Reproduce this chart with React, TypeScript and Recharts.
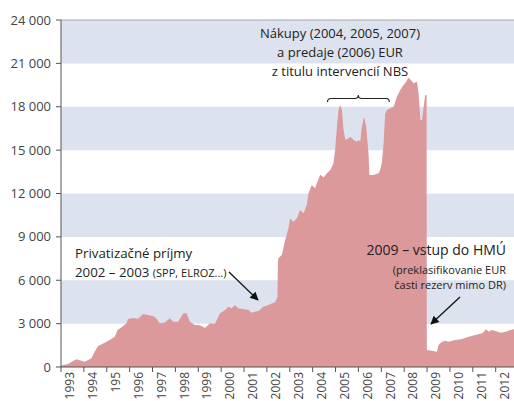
import React from 'react';
import { AreaChart, Area, XAxis, YAxis, ReferenceArea, ReferenceLine } from 'recharts';

// time (decimal years) and FX reserves (mil. EUR)
const times = [
  1993.0, 1993.31, 1993.67, 1994.04, 1994.33, 1994.47, 1994.62, 1994.91, 1995.13, 1995.35,
  1995.47, 1995.64, 1995.86, 1995.93, 1996.15, 1996.37, 1996.59, 1996.81, 1997.1, 1997.32,
  1997.54, 1997.76, 1997.9, 1998.12, 1998.34, 1998.49, 1998.63, 1998.85, 1999.0, 1999.15,
  1999.29, 1999.51, 1999.73, 1999.95, 2000.17, 2000.31, 2000.46, 2000.6, 2000.75, 2000.97,
  2001.19, 2001.34, 2001.48, 2001.63, 2001.84, 2002.06, 2002.21, 2002.36, 2002.46, 2002.48,
  2002.5, 2002.65, 2002.8, 2002.94, 2003.01, 2003.16, 2003.31, 2003.45, 2003.6, 2003.74,
  2003.82, 2003.96, 2004.11, 2004.18, 2004.33, 2004.48, 2004.62, 2004.77, 2004.91, 2004.98,
  2005.06, 2005.13, 2005.2, 2005.28, 2005.35, 2005.43, 2005.57, 2005.64, 2005.79, 2005.93,
  2006.0, 2006.08, 2006.15, 2006.25, 2006.34, 2006.44, 2006.48, 2006.66, 2006.88, 2006.95,
  2007.02, 2007.1, 2007.17, 2007.25, 2007.39, 2007.54, 2007.68, 2007.83, 2007.97, 2008.09,
  2008.19, 2008.29, 2008.41, 2008.56, 2008.63, 2008.71, 2008.78, 2008.85, 2008.92, 2008.98,
  2008.99, 2009.21, 2009.43, 2009.5, 2009.65, 2009.8, 2009.94, 2010.24, 2010.53, 2010.82,
  2011.11, 2011.41, 2011.58, 2011.7, 2011.81, 2011.99, 2012.21, 2012.43, 2012.65, 2012.8,
];
const reserves = [
  100, 200, 530, 370, 600, 1060, 1450, 1680, 1870, 2100,
  2560, 2740, 3020, 3320, 3390, 3340, 3660, 3600, 3480, 3020,
  3070, 3370, 3130, 3130, 3710, 3710, 3130, 2900, 2900, 2840,
  2700, 3020, 3000, 3710, 3940, 4170, 4060, 4290, 4060, 4010,
  3940, 3760, 3830, 3870, 4170, 4290, 4400, 4470, 4860, 7300,
  7520, 7750, 8780, 9590, 10280, 10050, 10280, 10860, 10630, 11200,
  12010, 12590, 12360, 12700, 13300, 13100, 13400, 13620, 14090, 15010,
  16620, 17770, 18120, 17770, 16390, 15700, 15820, 15930, 15700, 15580,
  15700, 15580, 16620, 17310, 16620, 14780, 13280, 13280, 13400, 13620,
  14090, 15470, 17540, 17770, 17890, 18000, 18690, 19160, 19500, 19730,
  20030, 19850, 19620, 19730, 18930, 17080, 17080, 18000, 18810, 18800,
  1180, 1130, 1060, 1520, 1750, 1820, 1750, 1870, 1940, 2100,
  2210, 2330, 2610, 2440, 2560, 2490, 2370, 2440, 2560, 2610,
];

const tickYears = [
  1993, 1994, 1995, 1996, 1997, 1998, 1999, 2000, 2001, 2002,
  2003, 2004, 2005, 2006, 2007, 2008, 2009, 2010, 2011, 2012,
];
const tickLabels = [
  '1993', '1994', '195', '1996', '1997', '1998', '1999', '2000', '2001', '2002',
  '2003', '2004', '2005', '2006', '2007', '2008', '2009', '2010', '2011', '2012',
];
const yTicks = [0, 3000, 6000, 9000, 12000, 15000, 18000, 21000, 24000];
const bands = [
  [3000, 6000],
  [9000, 12000],
  [15000, 18000],
  [21000, 24000],
];

const data = times.map((t, i) => ({ t, v: reserves[i] }));

const FONT = '"Open Sans", "DejaVu Sans", sans-serif';
const AXIS = '#555';
const TXT = '#444';

const fmtY = (v: number) =>
  v === 0 ? '0' : `${Math.floor(v / 1000)} ${String(v % 1000).padStart(3, '0')}`;

const XTick = (props: any) => {
  const { x, y, payload } = props;
  const idx = tickYears.indexOf(payload.value);
  const label = idx >= 0 ? tickLabels[idx] : String(payload.value);
  return (
    <text
      transform={`translate(${x + 8.7},${y}) rotate(-90)`}
      textAnchor="end"
      dominantBaseline="central"
      fontSize={12}
      fontFamily={FONT}
      fill={TXT}
    >
      {label}
    </text>
  );
};

export default function App() {
  return (
    <div style={{ position: 'absolute', left: 0, top: 0, width: 514, height: 401 }}>
      <AreaChart
        width={514}
        height={401}
        data={data}
        margin={{ top: 20, right: 0, left: 0, bottom: 0 }}
      >
        {bands.map(([a, b]) => (
          <ReferenceArea key={a} y1={a} y2={b} fill="#dde3ee" fillOpacity={1} stroke="none" ifOverflow="visible" />
        ))}
        <ReferenceLine y={24000} stroke="#a8a8a8" strokeWidth={1} />
        <XAxis
          dataKey="t"
          type="number"
          domain={[1993, 2012.8]}
          ticks={tickYears}
          interval={0}
          height={34}
          tickSize={5}
          tickMargin={0}
          stroke={AXIS}
          tickLine={{ stroke: AXIS }}
          tick={<XTick />}
        />
        <YAxis
          type="number"
          domain={[0, 24000]}
          ticks={yTicks}
          interval={0}
          width={61}
          tickSize={5}
          tickMargin={5}
          stroke={AXIS}
          tickLine={{ stroke: AXIS }}
          tickFormatter={fmtY}
          tick={{ fontSize: 13, fontFamily: FONT, fill: TXT }}
        />
        <Area
          type="linear"
          dataKey="v"
          stroke="none"
          fill="#db999c"
          fillOpacity={1}
          isAnimationActive={false}
          dot={false}
          activeDot={false}
        />
      </AreaChart>
      <svg
        width={514}
        height={401}
        style={{ position: 'absolute', left: 0, top: 0, pointerEvents: 'none' }}
        fontFamily={FONT}
      >
        <defs>
          <marker id="ah" viewBox="0 0 10 10" refX="9" refY="5" markerWidth="7.5" markerHeight="6.5" orient="auto">
            <path d="M0,0 L10,5 L0,10 z" fill="#111" />
          </marker>
        </defs>
        <g fill="#222" fontSize={13} textAnchor="middle">
          <text x={340} y={37.5}>Nákupy (2004, 2005, 2007)</text>
          <text x={340} y={56.5}>a predaje (2006) EUR</text>
          <text x={340} y={75.5}>z titulu intervencií NBS</text>
        </g>
        <path
          d="M327.5,102 Q327.5,98.5 331,98.5 L355,98.5 Q358.3,98.5 358.3,95 Q358.3,98.5 361.6,98.5 L386,98.5 Q389.3,98.5 389.3,102"
          fill="none"
          stroke="#222"
          strokeWidth={1.1}
        />
        <g fill="#222">
          <text x={75} y={258} fontSize={13.3}>Privatizačné príjmy</text>
          <text x={75} y={277} fontSize={13.3}>
            2002 – 2003 <tspan fontSize={11}>(SPP, ELROZ...)</tspan>
          </text>
        </g>
        <line x1={229} y1={272} x2={258} y2={300} stroke="#111" strokeWidth={1.3} markerEnd="url(#ah)" />
        <g fill="#222" textAnchor="end">
          <text x={506} y={255} fontSize={14}>2009 – vstup do HMÚ</text>
          <text x={506} y={274} fontSize={11}>(preklasifikovanie EUR</text>
          <text x={506} y={288.5} fontSize={11}>časti rezerv mimo DR)</text>
        </g>
        <line x1={460} y1={297} x2={431} y2={324} stroke="#111" strokeWidth={1.3} markerEnd="url(#ah)" />
      </svg>
    </div>
  );
}
